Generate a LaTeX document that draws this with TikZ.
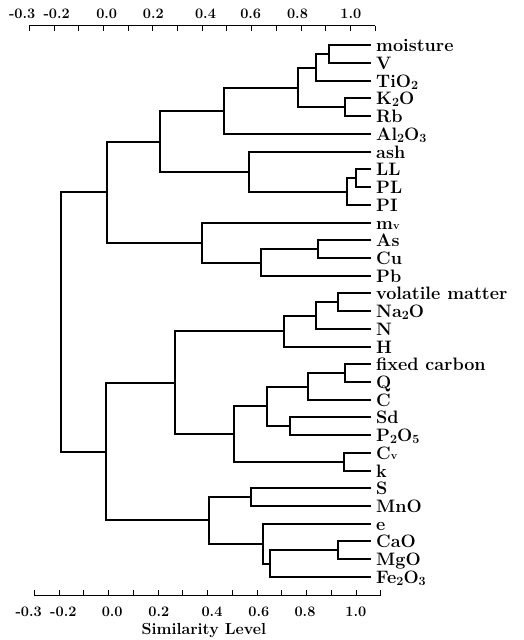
\documentclass[tikz,border=0pt]{standalone}
\usepackage{fontspec}
\newcommand\labfont{\fontsize{18}{20}\selectfont\bfseries\addfontfeature{LetterSpace=8,FakeBold=0.8}}
\newcommand\axfont{\fontsize{14.5}{16}\selectfont\bfseries\addfontfeature{LetterSpace=6,FakeBold=0.6}}
\newcommand\sbs[1]{\raisebox{-1.8pt}{\fontsize{12.5}{12.5}\selectfont #1}}
\newcommand\sbv[1]{\raisebox{-0.6pt}{\fontsize{11}{11}\selectfont #1}}
\begin{document}
\begin{tikzpicture}[x=1pt,y=-1pt,
  dend/.style={line width=1.8pt},
  axisline/.style={line width=1pt},
  lab/.style={anchor=base west,inner sep=0pt,xshift=5pt,yshift=-6.2pt,font=\labfont},
  axlab/.style={inner sep=0pt,font=\axfont}]
\useasboundingbox (0,0) rectangle (524,640);
% leaves
\foreach \i/\t in {0/moisture,1/V,2/TiO\sbs{2},3/K\sbs{2}O,4/Rb,5/Al\sbs{2}O\sbs{3},
  6/ash,7/LL,8/PL,9/PI,10/m\sbv{v},11/As,12/Cu,13/Pb,14/volatile\hspace{7pt}matter,15/Na\sbs{2}O,
  16/N,17/H,18/fixed carbon,19/Q,20/C,21/Sd,22/P\sbs{2}O\sbs{5},23/C\sbv{v},24/k,
  25/S,26/MnO,27/e,28/CaO,29/MgO,30/Fe\sbs{2}O\sbs{3}}{
  \coordinate (l\i) at (371,{round(45.3+17.72*\i)});
  \node[lab] (t\i) at (l\i) {\t};
}
% merge points
\coordinate (m1) at (329,54);
\coordinate (m2) at (316,68);
\coordinate (m3) at (345,107);
\coordinate (m4) at (298,88);
\coordinate (m5) at (224,111);
\coordinate (m6) at (356,178);
\coordinate (m7) at (347,192);
\coordinate (m8) at (249,172);
\coordinate (m9) at (160,142);
\coordinate (m10) at (318,249);
\coordinate (m11) at (261,263);
\coordinate (m12) at (202,243);
\coordinate (m13) at (107,192);
\coordinate (m14) at (338,302);
\coordinate (m15) at (316,316);
\coordinate (m16) at (284,331);
\coordinate (m17) at (345,373);
\coordinate (m18) at (308,387);
\coordinate (m19) at (290,426);
\coordinate (m20) at (267,406);
\coordinate (m21) at (344,462);
\coordinate (m22) at (234,434);
\coordinate (m23) at (175,383);
\coordinate (m24) at (251,497);
\coordinate (m25) at (338,550);
\coordinate (m26) at (270,564);
\coordinate (m27) at (263,544);
\coordinate (m28) at (209,520);
\coordinate (m29) at (106,452);
\coordinate (m30) at (61,322);
% connectors
\draw[dend] (l0) -| (m1) |- (l1);
\draw[dend] (m1) -| (m2) |- (l2);
\draw[dend] (l3) -| (m3) |- (l4);
\draw[dend] (m2) -| (m4) |- (m3);
\draw[dend] (m4) -| (m5) |- (l5);
\draw[dend] (l7) -| (m6) |- (l8);
\draw[dend] (m6) -| (m7) |- (l9);
\draw[dend] (l6) -| (m8) |- (m7);
\draw[dend] (m5) -| (m9) |- (m8);
\draw[dend] (l11) -| (m10) |- (l12);
\draw[dend] (m10) -| (m11) |- (l13);
\draw[dend] (l10) -| (m12) |- (m11);
\draw[dend] (m9) -| (m13) |- (m12);
\draw[dend] (l14) -| (m14) |- (l15);
\draw[dend] (m14) -| (m15) |- (l16);
\draw[dend] (m15) -| (m16) |- (l17);
\draw[dend] (l18) -| (m17) |- (l19);
\draw[dend] (m17) -| (m18) |- (l20);
\draw[dend] (l21) -| (m19) |- (l22);
\draw[dend] (m18) -| (m20) |- (m19);
\draw[dend] (l23) -| (m21) |- (l24);
\draw[dend] (m20) -| (m22) |- (m21);
\draw[dend] (m16) -| (m23) |- (m22);
\draw[dend] (l25) -| (m24) |- (l26);
\draw[dend] (l28) -| (m25) |- (l29);
\draw[dend] (m25) -| (m26) |- (l30);
\draw[dend] (l27) -| (m27) |- (m26);
\draw[dend] (m24) -| (m28) |- (m27);
\draw[dend] (m23) -| (m29) |- (m28);
\draw[dend] (m13) -| (m30) |- (m29);
% top axis
\coordinate (ta0) at (29.3,25.5);
\coordinate (ta1) at (375.3,25.5);
\draw[axisline] (ta0) -- (ta1);
\foreach \k in {0,...,14}{\draw[axisline] ({29.3+24.71*\k},25.5) -- ++(0,5.5);}
\foreach \xx/\t in {22.2/-0.3,56.7/-0.2,106.7/0.0,153.3/0.2,205.5/0.4,250.7/0.6,297.5/0.8,350.8/1.0}
  {\node[axlab] at (\xx,13.5) {\t};}
% bottom axis
\coordinate (ba0) at (34.3,595.5);
\coordinate (ba1) at (381,595.5);
\draw[axisline] (ba0) -- (ba1);
\foreach \k in {0,...,14}{\draw[axisline] ({34.3+24.76*\k},595.5) -- ++(0,-5.5);}
\foreach \xx/\t in {28.7/-0.3,63.3/-0.2,112.2/0.0,158.8/0.2,212/0.4,258.8/0.6,305/0.8,355.8/1.0}
  {\node[axlab] at (\xx,612) {\t};}
\node[inner sep=0pt,font=\fontsize{16}{18}\selectfont\bfseries\addfontfeature{LetterSpace=3,FakeBold=0.6}] (title) at (203.8,631) {Similarity Level};
\end{tikzpicture}
\end{document}
